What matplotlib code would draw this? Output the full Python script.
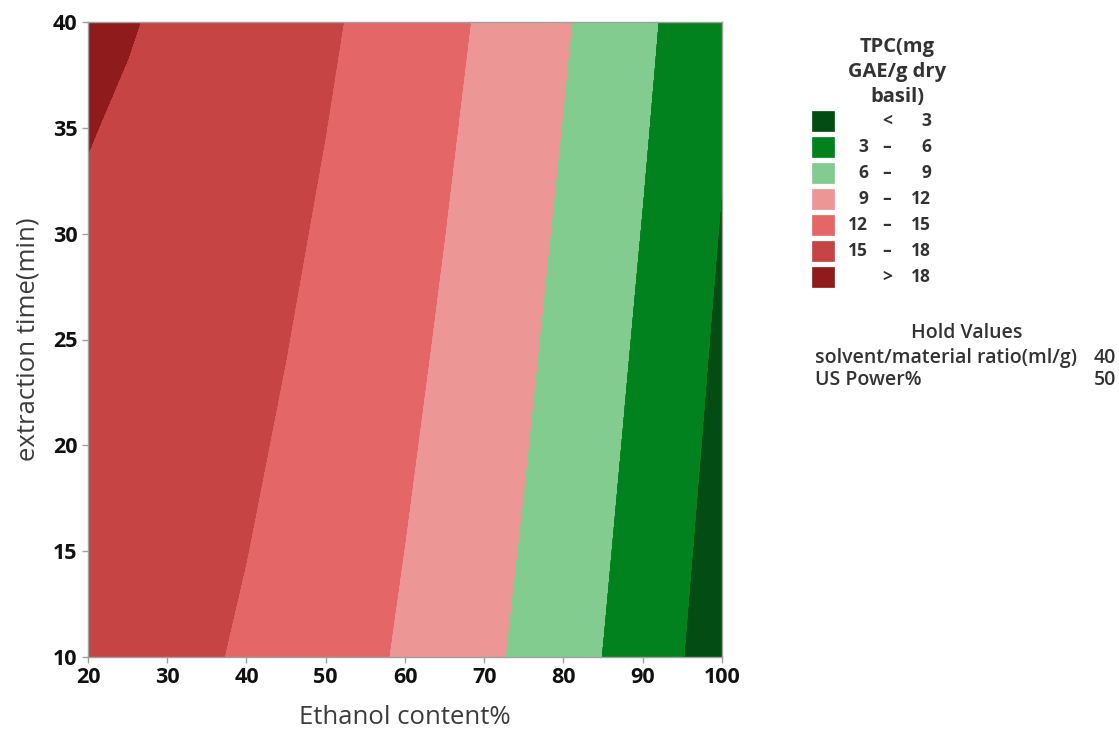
import matplotlib
matplotlib.use("Agg")
import matplotlib.pyplot as plt
from matplotlib.patches import Rectangle
import numpy as np

# ---- data ----
ethanol = [20, 25, 30, 35, 40, 45, 50, 55, 60, 65, 70, 75, 80, 85, 90, 95, 100]
time_min = [10, 15, 20, 25, 30, 35, 40]
# TPC estimated on the grid (rows = extraction time, columns = ethanol content)
tpc_t10 = [16.40, 16.09, 15.71, 15.24, 14.69, 14.05, 13.33, 12.52, 11.64, 10.66, 9.60, 8.46, 7.24, 5.93, 4.54, 3.06, 1.50]
tpc_t15 = [16.73, 16.43, 16.05, 15.58, 15.03, 14.39, 13.67, 12.86, 11.97, 11.00, 9.94, 8.80, 7.58, 6.27, 4.88, 3.40, 1.84]
tpc_t20 = [17.07, 16.77, 16.39, 15.92, 15.36, 14.73, 14.01, 13.20, 12.31, 11.34, 10.28, 9.14, 7.92, 6.61, 5.21, 3.74, 2.18]
tpc_t25 = [17.41, 17.11, 16.72, 16.25, 15.70, 15.06, 14.34, 13.54, 12.65, 11.68, 10.62, 9.48, 8.25, 6.94, 5.55, 4.07, 2.51]
tpc_t30 = [17.75, 17.45, 17.06, 16.59, 16.04, 15.40, 14.68, 13.88, 12.99, 12.01, 10.96, 9.82, 8.59, 7.28, 5.89, 4.41, 2.85]
tpc_t35 = [18.08, 17.78, 17.40, 16.93, 16.38, 15.74, 15.02, 14.21, 13.32, 12.35, 11.29, 10.15, 8.93, 7.62, 6.23, 4.75, 3.19]
tpc_t40 = [18.42, 18.12, 17.74, 17.27, 16.71, 16.08, 15.36, 14.55, 13.66, 12.69, 11.63, 10.49, 9.27, 7.96, 6.56, 5.09, 3.53]

levels = [0, 3, 6, 9, 12, 15, 18, 30]
level_colors = ["#034d14", "#02821f", "#82cc90", "#ec9696", "#e46666", "#c64444", "#8f1b1d"]
legend_low = ["", "3", "6", "9", "12", "15", ""]
legend_sep = ["<", "\u2013", "\u2013", "\u2013", "\u2013", "\u2013", ">"]
legend_high = ["3", "6", "9", "12", "15", "18", "18"]
legend_title = "TPC(mg\nGAE/g dry\nbasil)"
hold_names = ["solvent/material ratio(ml/g)", "US Power%"]
hold_values = ["40", "50"]

x_ticks = [20, 30, 40, 50, 60, 70, 80, 90, 100]
y_ticks = [10, 15, 20, 25, 30, 35, 40]

# ---- figure ----
W, H = 1119, 731
fig = plt.figure(figsize=(W / 100, H / 100), dpi=100)
plt.rcParams['font.family'] = ['Open Sans', 'DejaVu Sans']

def fx(px):
    return px / W

def fy(py):
    return 1 - py / H

ax = fig.add_axes([fx(88), fy(657), fx(722) - fx(88), fy(22) - fy(657)])

X, T = np.meshgrid(ethanol, time_min)
Z = np.array([tpc_t10, tpc_t15, tpc_t20, tpc_t25, tpc_t30, tpc_t35, tpc_t40])
cs = ax.contourf(X, T, Z, levels=levels, colors=level_colors)
# cover anti-aliasing seams
ax.contour(X, T, Z, levels=levels[1:-1], colors=level_colors[1:], linewidths=0.6)

ax.set_xlim(20, 100)
ax.set_ylim(10, 40)
ax.set_xticks(x_ticks)
ax.set_yticks(y_ticks)
for s in ax.spines.values():
    s.set_color("#a0a0a0")
    s.set_linewidth(1.0)
ax.tick_params(axis="both", length=4.5, width=1, color="#a0a0a0", pad=3,
               labelsize=15.5, labelcolor="#111111")
for lab in ax.get_xticklabels() + ax.get_yticklabels():
    lab.set_fontweight("bold")

ax.set_xlabel("Ethanol content%", fontsize=18.5, color="#3c3c3c", labelpad=12)
ax.set_ylabel("extraction time(min)", fontsize=18.5, color="#3c3c3c", labelpad=9)

# ---- legend ----
txtc = "#333333"
fig.text(fx(897), fy(72), legend_title, ha="center", va="center", fontsize=14.5,
         fontweight="bold", color=txtc, linespacing=1.33)
for i, c in enumerate(level_colors):
    top = 111 + 26 * i
    fig.patches.append(Rectangle((fx(812), fy(top + 20)), fx(834) - fx(812), fy(top) - fy(top + 20),
                                 transform=fig.transFigure, facecolor=c, edgecolor=c, lw=0.5))
    yc = fy(top + 10)
    if legend_low[i]:
        fig.text(fx(868), yc, legend_low[i], ha="right", va="center", fontsize=12.5,
                 fontweight="bold", color=txtc)
    fig.text(fx(887), yc, legend_sep[i], ha="center", va="center", fontsize=12.5,
             fontweight="bold", color=txtc)
    fig.text(fx(931), yc, legend_high[i], ha="right", va="center", fontsize=12.5,
             fontweight="bold", color=txtc)

fig.text(fx(967), fy(333), "Hold Values", ha="center", va="center", fontsize=14,
         fontweight="semibold", color=txtc)
for j, (n, v) in enumerate(zip(hold_names, hold_values)):
    yc = fy(358 + 22 * j)
    fig.text(fx(815), yc, n, ha="left", va="center", fontsize=14, fontweight="semibold", color=txtc)
    fig.text(fx(1116), yc, v, ha="right", va="center", fontsize=14, fontweight="semibold", color=txtc)

fig.savefig("out.png", dpi=100)
